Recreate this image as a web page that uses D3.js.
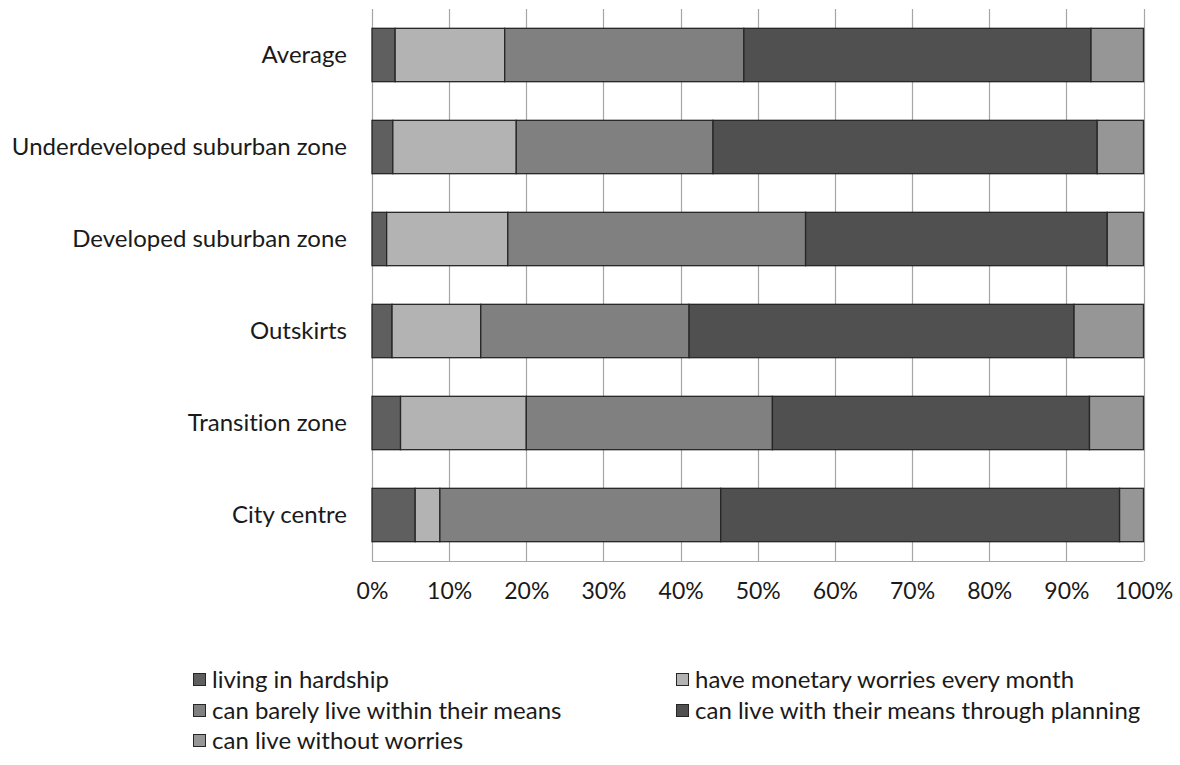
<!DOCTYPE html>
<html>
<head>
<meta charset="utf-8">
<script src="https://cdn.jsdelivr.net/npm/d3@7"></script>
<style>
  html, body { margin: 0; padding: 0; background: #fff; }
  svg { display: block; font-family: Lato, "Open Sans", sans-serif; font-variant-ligatures: none; }
</style>
</head>
<body>
<svg id="chart" width="1180" height="765"></svg>
<script>
// Zones, top to bottom
const categories = [
  "Average",
  "Underdeveloped suburban zone",
  "Developed suburban zone",
  "Outskirts",
  "Transition zone",
  "City centre"
];

// Share of households (%) in each zone
const livingInHardship   = [3.0, 2.7, 1.9, 2.6, 3.7, 5.6];
const monetaryWorries    = [14.2, 16.0, 15.7, 11.5, 16.3, 3.2];
const barelyWithinMeans  = [31.0, 25.5, 38.6, 27.0, 31.9, 36.4];
const withPlanning       = [45.0, 49.8, 39.1, 49.9, 41.1, 51.7];
const withoutWorries     = [6.8, 6.0, 4.7, 9.0, 7.0, 3.1];

const seriesNames = [
  "living in hardship",
  "have monetary worries every month",
  "can barely live within their means",
  "can live with their means through planning",
  "can live without worries"
];
const seriesValues = [livingInHardship, monetaryWorries, barelyWithinMeans, withPlanning, withoutWorries];
const colors = ["#5f5f5f", "#b3b3b3", "#808080", "#505050", "#969696"];

const tickValues = [0, 0.1, 0.2, 0.3, 0.4, 0.5, 0.6, 0.7, 0.8, 0.9, 1.0];

// Build rows of shares normalised to 100%
const keys = seriesNames;
const rows = categories.map((c, i) => {
  const row = { category: c };
  const total = d3.sum(seriesValues, s => s[i]);
  keys.forEach((k, j) => { row[k] = seriesValues[j][i] / total; });
  return row;
});

const svg = d3.select("#chart");
const margin = { left: 372, right: 1180 - 1143.5, top: 9, bottom: 765 - 561 };
const plotW = 1180 - margin.left - margin.right;
const plotH = 765 - margin.top - margin.bottom;

const x = d3.scaleLinear().domain([0, 1]).range([margin.left, margin.left + plotW]);
const y = d3.scaleBand().domain(categories).range([margin.top, margin.top + plotH])
  .paddingInner(0.42).paddingOuter(0.21);

const color = d3.scaleOrdinal().domain(keys).range(colors);

// Vertical gridlines
svg.append("g")
  .selectAll("line")
  .data(tickValues)
  .join("line")
  .attr("x1", d => Math.round(x(d)) + 0.5)
  .attr("x2", d => Math.round(x(d)) + 0.5)
  .attr("y1", margin.top)
  .attr("y2", margin.top + plotH)
  .attr("stroke", "#a6a6a6")
  .attr("stroke-width", 1.2);

// Bottom axis line
svg.append("line")
  .attr("x1", x(0)).attr("x2", x(1))
  .attr("y1", margin.top + plotH + 0.5).attr("y2", margin.top + plotH + 0.5)
  .attr("stroke", "#a6a6a6").attr("stroke-width", 1.2);

// Stacked bars
const stack = d3.stack().keys(keys);
const stacked = stack(rows);

svg.append("g")
  .selectAll("g")
  .data(stacked)
  .join("g")
  .attr("fill", d => color(d.key))
  .selectAll("rect")
  .data(d => d)
  .join("rect")
  .attr("x", d => x(d[0]))
  .attr("y", d => y(d.data.category))
  .attr("width", d => x(d[1]) - x(d[0]))
  .attr("height", y.bandwidth())
  .attr("stroke", "#262626")
  .attr("stroke-width", 1.3);

// Category axis labels
const yAxis = d3.axisLeft(y).tickSize(0).tickPadding(25);
const gy = svg.append("g").attr("transform", `translate(${margin.left},0)`).call(yAxis);
gy.select(".domain").remove();
gy.selectAll("text")
  .attr("font-size", 24)
  .attr("font-family", "Lato, 'Open Sans', sans-serif")
  .attr("fill", "#1a1a1a");

// Percentage axis
const xAxis = d3.axisBottom(x).tickValues(tickValues).tickFormat(d3.format(".0%")).tickSize(0).tickPadding(22);
const gx = svg.append("g").attr("transform", `translate(0,${margin.top + plotH})`).call(xAxis);
gx.select(".domain").remove();
gx.selectAll("text")
  .attr("font-size", 23)
  .attr("font-family", "Lato, 'Open Sans', sans-serif")
  .attr("fill", "#1a1a1a");

// Legend in two columns
const legendX = [193, 676];
const legendY = [680, 711, 741];
const legend = svg.append("g")
  .selectAll("g")
  .data(keys)
  .join("g")
  .attr("transform", (d, i) => `translate(${legendX[i % 2]},${legendY[Math.floor(i / 2)]})`);

legend.append("rect")
  .attr("x", 0.5).attr("y", -6.5)
  .attr("width", 12).attr("height", 12)
  .attr("fill", d => color(d))
  .attr("stroke", "#262626").attr("stroke-width", 1);

legend.append("text")
  .attr("x", 19)
  .attr("dy", "0.35em")
  .attr("font-size", 24)
  .attr("fill", "#1a1a1a")
  .text(d => d);
</script>
</body>
</html>
